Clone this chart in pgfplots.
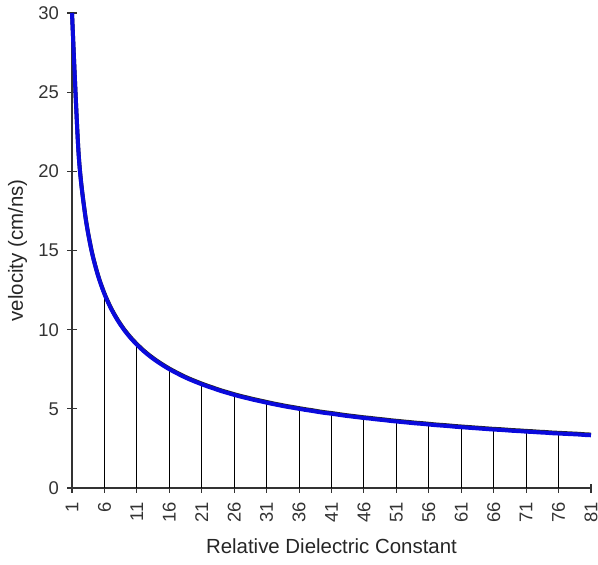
\documentclass[border=0pt]{standalone}
\usepackage{pgfplots}
\pgfplotsset{compat=1.18}
\usepackage{fontspec}
\setmainfont{Liberation Sans}
\definecolor{curveblue}{RGB}{10,10,220}
\begin{document}
\begin{tikzpicture}
\begin{axis}[
  at={(0,0)}, anchor=origin,
  scale only axis,
  width=519bp, height=475bp,
  xmin=1, xmax=81, ymin=0, ymax=30,
  axis lines*=left,
  axis line style={black!80, line width=1.4bp},
  xtick={1,6,...,81},
  ytick={0,5,...,30},
  tick align=center,
  major tick length=9bp,
  tick style={black!80, line width=1.1bp},
  /pgf/number format/assume math mode=true,
  ticklabel style={font=\fontsize{18.5}{21}\selectfont, black!80},
  x tick label style={rotate=90, anchor=east, xshift=-6bp},
  y tick label style={xshift=-5bp},
  xlabel={Relative Dielectric Constant},
  ylabel={velocity (cm/ns)},
  label style={font=\fontsize{20.5}{24}\selectfont, black!85},
  xlabel style={at={(axis description cs:0.5,0)}, anchor=base, yshift=-65bp},
  ylabel style={at={(axis description cs:0,0.5)}, anchor=base, yshift=49bp},
  clip=false,
]
\addplot[ycomb, black, line width=0.9bp, mark=none] coordinates {
(6,12.25) (11,9.05) (16,7.50) (21,6.55) (26,5.88) (31,5.39) (36,5.00)
(41,4.69) (46,4.42) (51,4.20) (56,4.01) (61,3.84) (66,3.69) (71,3.56) (76,3.44)
};
\pgfplotstableread{
x y
1 30.00
2 21.21
3 17.32
4 15.00
5 13.42
6 12.25
7 11.34
8 10.61
9 10.00
10 9.49
11 9.05
12 8.66
13 8.32
14 8.02
15 7.75
16 7.50
17 7.28
18 7.07
19 6.88
20 6.71
21 6.55
22 6.40
23 6.26
24 6.12
25 6.00
26 5.88
27 5.77
28 5.67
29 5.57
30 5.48
31 5.39
32 5.30
33 5.22
34 5.14
35 5.07
36 5.00
37 4.93
38 4.87
39 4.80
40 4.74
41 4.69
42 4.63
43 4.57
44 4.52
45 4.47
46 4.42
47 4.38
48 4.33
49 4.29
50 4.24
51 4.20
52 4.16
53 4.12
54 4.08
55 4.05
56 4.01
57 3.97
58 3.94
59 3.91
60 3.87
61 3.84
62 3.81
63 3.78
64 3.75
65 3.72
66 3.69
67 3.67
68 3.64
69 3.61
70 3.59
71 3.56
72 3.54
73 3.51
74 3.49
75 3.46
76 3.44
77 3.42
78 3.40
79 3.38
80 3.35
81 3.33
}\curvedata
\addplot[black!85, line width=4bp, yshift=0.7bp, mark=none, smooth] table {\curvedata};
\addplot[curveblue, line width=4bp, mark=none, smooth] table {\curvedata};
\end{axis}
\pgfresetboundingbox
\useasboundingbox (-72bp,-77bp) rectangle (526bp,488bp);
\end{tikzpicture}
\end{document}
